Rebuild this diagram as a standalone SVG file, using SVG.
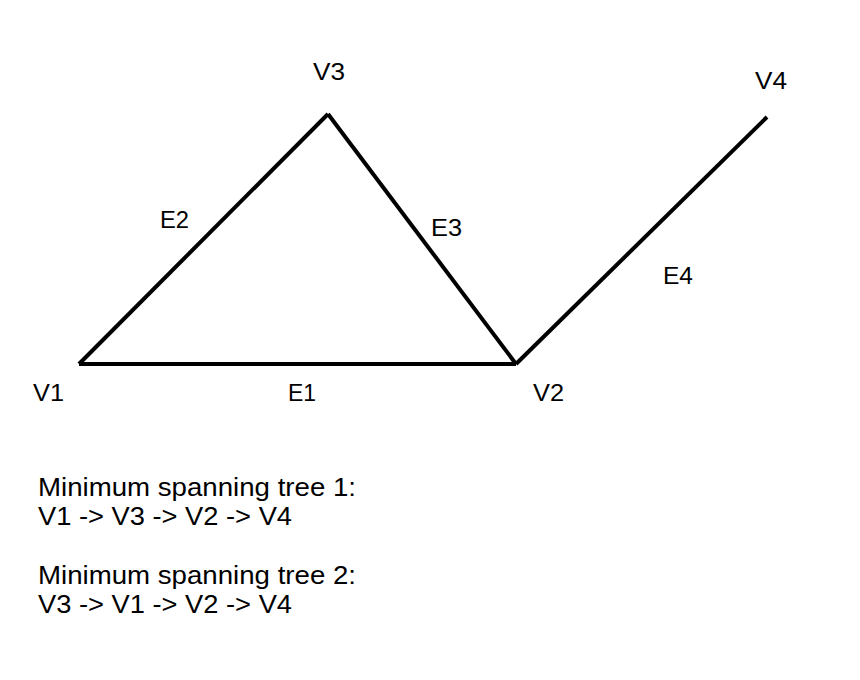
<svg xmlns="http://www.w3.org/2000/svg" width="860" height="680" viewBox="0 0 860 680">
<style>
.lbl{font-family:"Liberation Sans",Arial,Helvetica,sans-serif;font-size:23px;fill:#000}
.txt{font-family:"Liberation Sans",Arial,Helvetica,sans-serif;font-size:25px;fill:#000}
.edge{stroke:#000;stroke-width:4;fill:none;stroke-linecap:butt;stroke-linejoin:miter}
</style>
<rect width="860" height="680" fill="#fff"/>
<g id="connectors">
<line id="E1" class="edge" x1="79" y1="364" x2="516" y2="364"/>
<line id="E2" class="edge" x1="79" y1="364" x2="328" y2="114"/>
<line id="E3" class="edge" x1="328" y1="114" x2="516" y2="364"/>
<line id="E4" class="edge" x1="516" y1="364" x2="767" y2="117"/>
</g>
<g id="V1"><text class="lbl" x="33" y="401" textLength="31" lengthAdjust="spacingAndGlyphs">V1</text></g>
<g id="V2"><text class="lbl" x="533" y="401" textLength="31" lengthAdjust="spacingAndGlyphs">V2</text></g>
<g id="V3"><text class="lbl" x="313" y="80" textLength="32" lengthAdjust="spacingAndGlyphs">V3</text></g>
<g id="V4"><text class="lbl" x="755" y="89" textLength="32" lengthAdjust="spacingAndGlyphs">V4</text></g>
<g id="edge-labels">
<text class="lbl" x="288" y="401" textLength="28" lengthAdjust="spacingAndGlyphs">E1</text>
<text class="lbl" x="160" y="228" textLength="29" lengthAdjust="spacingAndGlyphs">E2</text>
<text class="lbl" x="431" y="236" textLength="31" lengthAdjust="spacingAndGlyphs">E3</text>
<text class="lbl" x="663" y="284" textLength="30" lengthAdjust="spacingAndGlyphs">E4</text>
</g>
<g id="notes">
<text class="txt" x="38" y="496" textLength="318" lengthAdjust="spacingAndGlyphs">Minimum spanning tree 1:</text>
<text class="txt" x="38" y="525" textLength="254" lengthAdjust="spacingAndGlyphs">V1 -&gt; V3 -&gt; V2 -&gt; V4</text>
<text class="txt" x="38" y="584" textLength="318" lengthAdjust="spacingAndGlyphs">Minimum spanning tree 2:</text>
<text class="txt" x="38" y="613" textLength="254" lengthAdjust="spacingAndGlyphs">V3 -&gt; V1 -&gt; V2 -&gt; V4</text>
</g>
</svg>
